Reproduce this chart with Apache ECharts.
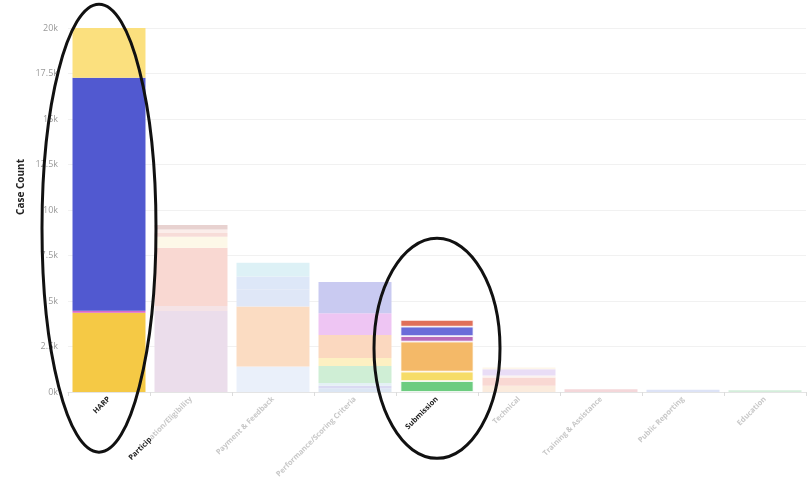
<!DOCTYPE html>
<html><head><meta charset="utf-8">
<script src="https://cdn.jsdelivr.net/npm/echarts@6/dist/echarts.min.js"></script>
<style>html,body{margin:0;background:#fff}#c{width:812px;height:484px}</style></head>
<body><div id="c"></div><script>
const categories = ['HARP','Participation/Eligibility','Payment & Feedback','Performance/Scoring Criteria','Submission','Technical','Training & Assistance','Public Reporting','Education'];
const highlighted = ['HARP','Submission'];

// stacked segment values (bottom -> top) per category
const harpValues = [4350, 120, 12800, 2730];
const participationValues = [4450, 280, 3200, 600, 200, 200, 250];
const paymentValues = [1400, 3300, 950, 700, 750];
const performanceValues = [200, 150, 150, 930, 440, 1260, 1200, 1720];
const submissionValues = [600, 520, 1650, 300, 520, 370];
const technicalValues = [350, 450, 100, 350, 100];
const trainingValues = [150];
const publicReportingValues = [120];
const educationValues = [100];

const harpColors = ['#F5C945','#D968C9','#5159D0','#FBE07E'];
const participationColors = ['#EBDDEB','#F5E3E6','#F9D8D2','#FDF8E8','#F7DCD8','#FBEDEA','#E8D2D0'];
const paymentColors = ['#EAF0FA','#FBDCC2','#DFE7F7','#DDE7F8','#DDF1F6'];
const performanceColors = ['#DCE6F4','#DADAF2','#E4F1F5','#CFEED5','#FDF0C2','#FBD8BF','#EEC5F3','#C9CAF1'];
const submissionColors = ['#6DCC80','#F6DC68','#F4B968','#B96AB8','#6A6CD9','#E0705A'];
const technicalColors = ['#FBEBDD','#F9D8D3','#FBF3F0','#E9DDF6','#FDF6EA'];
const trainingColors = ['#F4D7DA'];
const publicReportingColors = ['#DDE3F6'];
const educationColors = ['#D4EEDB'];

const yTickStep = 2500;
const yMax = 20000;

const segValues = [harpValues, participationValues, paymentValues, performanceValues, submissionValues, technicalValues, trainingValues, publicReportingValues, educationValues];
const segColors = [harpColors, participationColors, paymentColors, performanceColors, submissionColors, technicalColors, trainingColors, publicReportingColors, educationColors];

const series = [];
segValues.forEach((vals, ci) => {
  vals.forEach((v, si) => {
    series.push({
      type: 'bar', stack: 'total', barCategoryGap: '11%',
      data: categories.map((c, k) => k === ci ? v : '-'),
      itemStyle: {color: segColors[ci][si], borderColor: '#fff', borderWidth: categories[ci] === 'Submission' ? 0.8 : 0},
      emphasis: {disabled: true}
    });
  });
});

const chart = echarts.init(document.getElementById('c'), null, {renderer: 'canvas'});
chart.setOption({
  animation: false,
  backgroundColor: '#fff',
  grid: {left: 68, right: 6, top: 28, bottom: 92, containLabel: false},
  xAxis: {
    type: 'category', data: categories,
    axisLine: {lineStyle: {color: '#e4e4e4'}},
    axisTick: {show: true, length: 4, lineStyle: {color: '#dcdcdc'}},
    axisLabel: {
      interval: 0, rotate: 45, margin: 6,
      formatter: function (v) {
        if (highlighted.indexOf(v) >= 0) return '{h|' + v + '}';
        if (v === 'Participation/Eligibility') return '{h|Particip}{f|ation/Eligibility}';
        return '{f|' + v + '}';
      },
      rich: {
        h: {fontSize: 7.5, fontWeight: 'bold', color: '#222', fontFamily: 'Open Sans'},
        f: {fontSize: 7.5, fontWeight: 'bold', color: '#c8c8c8', fontFamily: 'Open Sans'}
      }
    }
  },
  yAxis: {
    type: 'value', min: 0, max: yMax, interval: yTickStep,
    axisLine: {show: false}, axisTick: {show: false},
    axisLabel: {fontSize: 9, color: '#9a9a9a', margin: 10, fontFamily: 'Open Sans', formatter: v => (v / 1000) + 'k'},
    splitLine: {lineStyle: {color: '#f1f1f1'}}
  },
  series: series
});

const px = (cat, val) => chart.convertToPixel({xAxisIndex: 0, yAxisIndex: 0}, [cat, val]);
const h = px('HARP', 9000), s = px('Submission', 2400);
chart.setOption({
  graphic: [
    {type: 'text', x: 21, y: 187, rotation: Math.PI / 2, z: 50,
     style: {text: 'Case Count', fontSize: 10, fontWeight: 'bold', fill: '#222', fontFamily: 'Open Sans', align: 'center', verticalAlign: 'middle'}},
    {type: 'ellipse', z: 100, shape: {cx: h[0] - 10, cy: h[1], rx: 57, ry: 224},
     style: {fill: 'none', stroke: '#111', lineWidth: 3}},
    {type: 'ellipse', z: 100, shape: {cx: s[0], cy: s[1], rx: 63, ry: 110},
     style: {fill: 'none', stroke: '#111', lineWidth: 3}}
  ]
});
</script></body></html>
